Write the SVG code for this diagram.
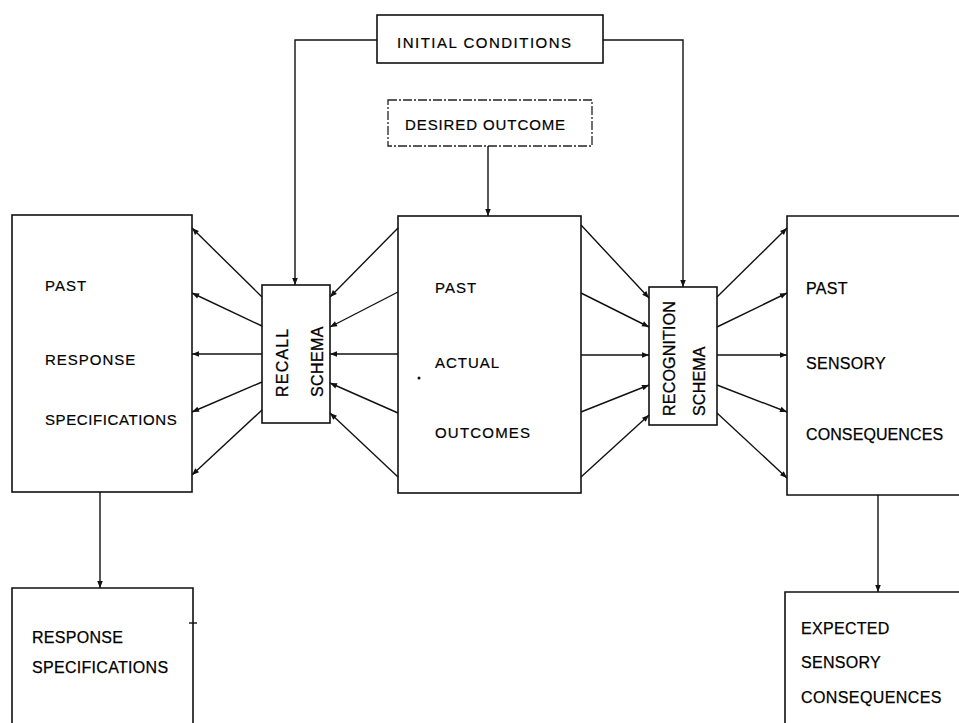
<svg xmlns="http://www.w3.org/2000/svg" width="959" height="723" viewBox="0 0 959 723">
<style>
.box{fill:#fff;stroke:#111;stroke-width:1.6}
.open{fill:none;stroke:#111;stroke-width:1.6}
.dash{fill:#fff;stroke:#222;stroke-width:1.3;stroke-dasharray:9 2 2 2}
.lbl{font-family:"Liberation Sans",Arial,sans-serif;font-size:15px;letter-spacing:1px;fill:#000;stroke:#000;stroke-width:0.2}
.lbl2{font-family:"Liberation Sans",Arial,sans-serif;font-size:16px;letter-spacing:0.3px;fill:#000;stroke:#000;stroke-width:0.25}
.sch{font-family:"Liberation Sans",Arial,sans-serif;font-size:16px;letter-spacing:1.2px;fill:#000;stroke:#000;stroke-width:0.3}
#connectors path,#connectors line{fill:none;stroke:#111;stroke-width:1.4;marker-end:url(#ah)}
</style>
<defs>
<marker id="ah" viewBox="0 0 10 10" refX="10" refY="5" markerWidth="9" markerHeight="7" markerUnits="userSpaceOnUse" orient="auto">
<path d="M0,1 L10,5 L0,9 z" fill="#111"/>
</marker>
</defs>
<rect width="959" height="723" fill="#fff"/>

<g id="initial-conditions">
<rect class="box" x="377" y="15" width="226" height="48"/>
<text class="lbl" x="397" y="48" style="letter-spacing:1.5px">INITIAL  CONDITIONS</text>
</g>

<g id="desired-outcome">
<rect class="dash" x="388" y="100" width="204" height="46"/>
<text class="lbl" x="405" y="130" style="letter-spacing:0.9px">DESIRED OUTCOME</text>
</g>

<g id="past-response-specifications">
<rect class="box" x="12" y="215" width="180" height="277"/>
<text class="lbl" x="45" y="291">PAST</text>
<text class="lbl" x="45" y="365">RESPONSE</text>
<text class="lbl" x="45" y="425" style="letter-spacing:0.6px">SPECIFICATIONS</text>
</g>

<g id="past-actual-outcomes">
<rect class="box" x="398" y="216" width="183" height="277"/>
<text class="lbl" x="435" y="293">PAST</text>
<text class="lbl" x="435" y="368">ACTUAL</text>
<text class="lbl" x="435" y="438" style="letter-spacing:1.2px">OUTCOMES</text>
<circle cx="419" cy="378" r="1.5" fill="#111"/>
</g>

<g id="past-sensory-consequences">
<path class="open" d="M959,216 H787 V495 H959"/>
<text class="lbl2" x="806" y="294">PAST</text>
<text class="lbl2" x="806" y="369">SENSORY</text>
<text class="lbl2" x="806" y="440" style="letter-spacing:0.1px">CONSEQUENCES</text>
</g>

<g id="recall-schema">
<rect class="box" x="262" y="285" width="68" height="138"/>
<text class="sch" transform="translate(288,397) rotate(-90)">RECALL</text>
<text class="sch" transform="translate(323,397) rotate(-90)" style="letter-spacing:0.4px">SCHEMA</text>
</g>

<g id="recognition-schema">
<rect class="box" x="649" y="287" width="68" height="138"/>
<text class="sch" transform="translate(675,416) rotate(-90)" style="letter-spacing:0.2px">RECOGNITION</text>
<text class="sch" transform="translate(705,416) rotate(-90)" style="letter-spacing:0.2px">SCHEMA</text>
</g>

<g id="response-specifications">
<path class="open" d="M12,723 V588 H193 V723"/>
<line x1="189" y1="623" x2="197" y2="623" stroke="#111" stroke-width="1.4"/>
<text class="lbl2" x="32" y="643">RESPONSE</text>
<text class="lbl2" x="32" y="673">SPECIFICATIONS</text>
</g>

<g id="expected-sensory-consequences">
<path class="open" d="M785,723 V592 H959"/>
<text class="lbl2" x="801" y="634">EXPECTED</text>
<text class="lbl2" x="801" y="668">SENSORY</text>
<text class="lbl2" x="801" y="703" style="letter-spacing:0.4px">CONSEQUENCES</text>
</g>

<g id="connectors">
<path d="M377,40 H295 V285"/>
<path d="M603,40 H683 V287"/>
<path d="M488,146 V216"/>
<path d="M100,492 V588"/>
<path d="M878,495 V592"/>

<line x1="262" y1="297" x2="192" y2="228"/>
<line x1="262" y1="326" x2="192" y2="293"/>
<line x1="262" y1="354" x2="192" y2="354"/>
<line x1="262" y1="382" x2="192" y2="412"/>
<line x1="262" y1="410" x2="192" y2="475"/>

<line x1="398" y1="228" x2="330" y2="297"/>
<line x1="398" y1="292" x2="330" y2="327"/>
<line x1="398" y1="354" x2="330" y2="354"/>
<line x1="398" y1="413" x2="330" y2="383"/>
<line x1="398" y1="477" x2="330" y2="413"/>

<line x1="581" y1="225" x2="649" y2="298"/>
<line x1="581" y1="293" x2="649" y2="327"/>
<line x1="581" y1="355" x2="649" y2="355"/>
<line x1="581" y1="412" x2="649" y2="385"/>
<line x1="581" y1="477" x2="649" y2="415"/>

<line x1="717" y1="297" x2="787" y2="228"/>
<line x1="717" y1="327" x2="787" y2="293"/>
<line x1="717" y1="355" x2="787" y2="355"/>
<line x1="717" y1="385" x2="787" y2="412"/>
<line x1="717" y1="413" x2="787" y2="478"/>
</g>
</svg>
